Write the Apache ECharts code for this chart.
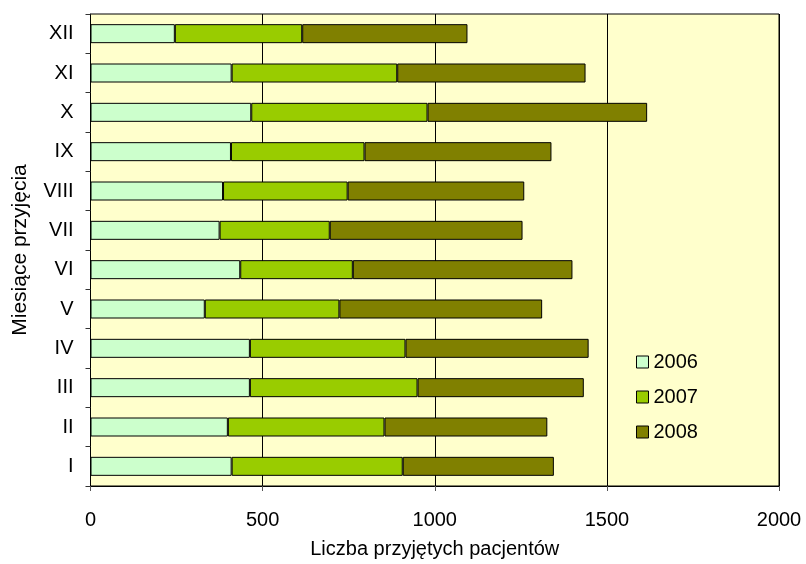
<!DOCTYPE html>
<html>
<head>
<meta charset="utf-8">
<script src="https://cdn.jsdelivr.net/npm/echarts@6/dist/echarts.min.js"></script>
<style>html,body{margin:0;padding:0;background:#fff;}#c{width:806px;height:564px;}</style>
</head>
<body>
<div id="c"></div>
<script>
const months = ['I','II','III','IV','V','VI','VII','VIII','IX','X','XI','XII'];
const s2006 = [410, 399, 463, 463, 332, 435, 375, 385, 408, 467, 410, 245];
const s2007 = [497, 455, 487, 452, 391, 327, 320, 362, 388, 512, 481, 370];
const s2008 = [439, 473, 483, 532, 589, 638, 560, 513, 543, 638, 547, 480];
const seriesNames = ['2006', '2007', '2008'];
const xTicks = [0, 500, 1000, 1500, 2000];

const FONT = 'Liberation Sans, Arial, sans-serif';
const colors = ['#CCFFCC', '#99CC00', '#808000'];
const chart = echarts.init(document.getElementById('c'), null, {renderer: 'canvas'});
const mk = (name, data, i) => ({
  name: name, type: 'bar', stack: 'total', data: data, barWidth: 19,
  itemStyle: {color: colors[i], borderColor: '#000', borderWidth: 1},
  emphasis: {disabled: true}
});
chart.setOption({
  animation: false,
  backgroundColor: '#fff',
  textStyle: {fontFamily: FONT},
  grid: {left: 90.5, right: 27, top: 14, bottom: 73, show: true,
    backgroundColor: '#FFFFCC', borderColor: '#000', borderWidth: 1, containLabel: false},
  legend: {
    orient: 'vertical', left: 631, top: 347, itemWidth: 12, itemHeight: 12, itemGap: 15,
    icon: 'rect',
    itemStyle: {borderColor: '#000', borderWidth: 1},
    textStyle: {fontFamily: FONT, fontSize: 20, color: '#000'},
    data: seriesNames
  },
  xAxis: {
    type: 'value', min: xTicks[0], max: xTicks[xTicks.length - 1], interval: 500,
    name: 'Liczba przyjętych pacjentów', nameLocation: 'middle', nameGap: 53,
    nameTextStyle: {fontFamily: FONT, fontSize: 20, color: '#000'},
    axisLine: {show: true, lineStyle: {color: '#000', width: 1}},
    axisTick: {show: true, length: 5, lineStyle: {color: '#555'}},
    axisLabel: {fontFamily: FONT, fontSize: 20, color: '#000', margin: 24,
      formatter: function (v) { return String(v); }},
    splitLine: {show: true, lineStyle: {color: '#000', width: 1}}
  },
  yAxis: {
    type: 'category', data: months,
    name: 'Miesiące przyjęcia', nameLocation: 'middle', nameGap: 60, nameRotate: 90,
    nameTextStyle: {fontFamily: FONT, fontSize: 21, color: '#000'},
    axisLine: {show: true, lineStyle: {color: '#000', width: 1}},
    axisTick: {show: true, length: 5, lineStyle: {color: '#333'}},
    axisLabel: {fontFamily: FONT, fontSize: 20, color: '#000', margin: 17},
    splitLine: {show: false}
  },
  series: [mk(seriesNames[0], s2006, 0), mk(seriesNames[1], s2007, 1), mk(seriesNames[2], s2008, 2)]
});
</script>
</body>
</html>
